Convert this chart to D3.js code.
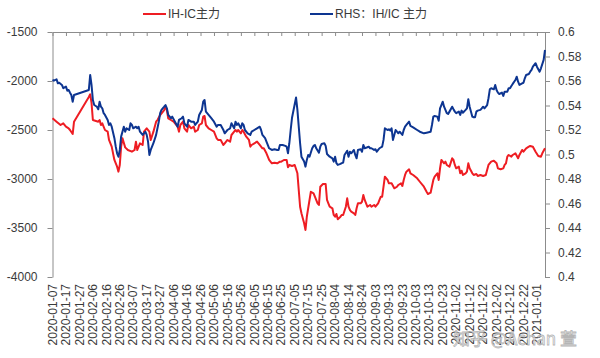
<!DOCTYPE html>
<html><head><meta charset="utf-8">
<script src="https://cdn.jsdelivr.net/npm/d3@7"></script>
<style>
html,body{margin:0;padding:0;background:#fff;}
svg text{font-family:"Liberation Sans",Arial,sans-serif;}
</style>
</head><body>
<script>
const redDates = ["2020-01-07","2020-01-10","2020-01-13","2020-01-15","2020-01-17","2020-01-19","2020-01-20","2020-01-22","2020-01-23","2020-02-03","2020-02-04","2020-02-05","2020-02-06","2020-02-10","2020-02-11","2020-02-12","2020-02-13","2020-02-15","2020-02-17","2020-02-18","2020-02-20","2020-02-21","2020-02-22","2020-02-24","2020-02-25","2020-02-26","2020-02-27","2020-02-28","2020-03-01","2020-03-03","2020-03-06","2020-03-08","2020-03-09","2020-03-10","2020-03-12","2020-03-14","2020-03-15","2020-03-17","2020-03-19","2020-03-20","2020-03-22","2020-03-24","2020-03-25","2020-03-27","2020-03-30","2020-03-31","2020-04-01","2020-04-02","2020-04-04","2020-04-06","2020-04-09","2020-04-10","2020-04-11","2020-04-13","2020-04-14","2020-04-16","2020-04-17","2020-04-19","2020-04-21","2020-04-22","2020-04-24","2020-04-25","2020-04-27","2020-04-28","2020-04-29","2020-04-30","2020-05-02","2020-05-04","2020-05-06","2020-05-08","2020-05-09","2020-05-11","2020-05-13","2020-05-14","2020-05-16","2020-05-18","2020-05-19","2020-05-21","2020-05-22","2020-05-23","2020-05-24","2020-05-26","2020-05-27","2020-05-28","2020-05-30","2020-06-01","2020-06-02","2020-06-03","2020-06-05","2020-06-07","2020-06-09","2020-06-11","2020-06-12","2020-06-14","2020-06-16","2020-06-18","2020-06-20","2020-06-22","2020-06-24","2020-06-25","2020-06-27","2020-06-29","2020-06-30","2020-07-01","2020-07-03","2020-07-05","2020-07-07","2020-07-09","2020-07-10","2020-07-12","2020-07-13","2020-07-14","2020-07-16","2020-07-17","2020-07-19","2020-07-20","2020-07-22","2020-07-23","2020-07-24","2020-07-26","2020-07-28","2020-07-29","2020-07-30","2020-07-31","2020-08-02","2020-08-03","2020-08-04","2020-08-05","2020-08-06","2020-08-08","2020-08-09","2020-08-10","2020-08-12","2020-08-13","2020-08-14","2020-08-15","2020-08-16","2020-08-18","2020-08-19","2020-08-20","2020-08-21","2020-08-23","2020-08-24","2020-08-25","2020-08-26","2020-08-28","2020-08-30","2020-08-31","2020-09-02","2020-09-03","2020-09-05","2020-09-06","2020-09-07","2020-09-08","2020-09-10","2020-09-12","2020-09-13","2020-09-15","2020-09-17","2020-09-19","2020-09-20","2020-09-22","2020-09-23","2020-09-24","2020-09-25","2020-09-26","2020-09-28","2020-09-29","2020-10-01","2020-10-04","2020-10-06","2020-10-09","2020-10-11","2020-10-12","2020-10-14","2020-10-16","2020-10-17","2020-10-19","2020-10-20","2020-10-21","2020-10-22","2020-10-24","2020-10-25","2020-10-26","2020-10-28","2020-10-30","2020-10-31","2020-11-01","2020-11-02","2020-11-04","2020-11-05","2020-11-06","2020-11-07","2020-11-09","2020-11-10","2020-11-11","2020-11-12","2020-11-14","2020-11-15","2020-11-17","2020-11-18","2020-11-20","2020-11-22","2020-11-24","2020-11-26","2020-11-28","2020-11-30","2020-12-02","2020-12-03","2020-12-05","2020-12-07","2020-12-08","2020-12-09","2020-12-10","2020-12-11","2020-12-13","2020-12-14","2020-12-16","2020-12-18","2020-12-19","2020-12-21","2020-12-22","2020-12-24","2020-12-26","2020-12-27","2020-12-29","2020-12-31","2021-01-02","2021-01-04","2021-01-05","2021-01-07"];
const redValues = [-2380,-2415,-2449,-2432,-2466,-2483,-2500,-2541,-2415,-2163,-2136,-2224,-2398,-2415,-2398,-2449,-2432,-2500,-2517,-2602,-2670,-2738,-2806,-2874,-2925,-2857,-2670,-2585,-2677,-2704,-2721,-2704,-2619,-2704,-2636,-2653,-2517,-2483,-2517,-2602,-2517,-2415,-2398,-2347,-2296,-2262,-2296,-2381,-2398,-2415,-2466,-2517,-2449,-2415,-2483,-2517,-2449,-2483,-2466,-2517,-2500,-2449,-2432,-2364,-2357,-2449,-2483,-2500,-2517,-2585,-2602,-2602,-2653,-2636,-2602,-2619,-2551,-2517,-2500,-2517,-2500,-2534,-2500,-2517,-2568,-2602,-2670,-2653,-2636,-2619,-2653,-2687,-2687,-2738,-2806,-2840,-2834,-2840,-2823,-2823,-2806,-2806,-2881,-2857,-2867,-2857,-2942,-3283,-3350,-3452,-3520,-3385,-3214,-3130,-3146,-3181,-3248,-3265,-3079,-3051,-3051,-3214,-3248,-3283,-3299,-3367,-3385,-3357,-3411,-3385,-3367,-3367,-3283,-3197,-3283,-3316,-3334,-3350,-3367,-3299,-3248,-3248,-3232,-3163,-3214,-3283,-3265,-3283,-3265,-3283,-3248,-3214,-3181,-3181,-2976,-3010,-3044,-3044,-3095,-3079,-3061,-3044,-3071,-3010,-2959,-2925,-2901,-2942,-2959,-2993,-3028,-3079,-3130,-3153,-3140,-3010,-2976,-2942,-3010,-2891,-2806,-2840,-2823,-2857,-2874,-2789,-2806,-2857,-2891,-2874,-2942,-2915,-2959,-2942,-2925,-2840,-2891,-2942,-2959,-2949,-2969,-2959,-2969,-2959,-2857,-2823,-2813,-2840,-2891,-2901,-2891,-2857,-2840,-2772,-2755,-2772,-2755,-2738,-2789,-2755,-2704,-2721,-2687,-2670,-2663,-2670,-2721,-2765,-2772,-2738,-2687];

const blueDates = ["2020-01-07","2020-01-08","2020-01-10","2020-01-11","2020-01-12","2020-01-14","2020-01-15","2020-01-17","2020-01-18","2020-01-19","2020-01-20","2020-01-21","2020-01-22","2020-01-23","2020-02-03","2020-02-04","2020-02-05","2020-02-06","2020-02-07","2020-02-09","2020-02-10","2020-02-11","2020-02-12","2020-02-13","2020-02-14","2020-02-15","2020-02-17","2020-02-18","2020-02-19","2020-02-20","2020-02-22","2020-02-23","2020-02-24","2020-02-25","2020-02-26","2020-02-27","2020-02-29","2020-03-01","2020-03-02","2020-03-04","2020-03-05","2020-03-06","2020-03-07","2020-03-09","2020-03-10","2020-03-11","2020-03-12","2020-03-14","2020-03-15","2020-03-16","2020-03-17","2020-03-18","2020-03-19","2020-03-20","2020-03-22","2020-03-24","2020-03-25","2020-03-26","2020-03-27","2020-03-28","2020-03-30","2020-03-31","2020-04-01","2020-04-02","2020-04-04","2020-04-05","2020-04-07","2020-04-09","2020-04-10","2020-04-12","2020-04-13","2020-04-14","2020-04-16","2020-04-17","2020-04-19","2020-04-21","2020-04-22","2020-04-24","2020-04-25","2020-04-27","2020-04-28","2020-04-29","2020-04-30","2020-05-02","2020-05-04","2020-05-06","2020-05-08","2020-05-09","2020-05-11","2020-05-13","2020-05-14","2020-05-16","2020-05-18","2020-05-19","2020-05-21","2020-05-22","2020-05-23","2020-05-24","2020-05-26","2020-05-27","2020-05-28","2020-05-29","2020-05-31","2020-06-02","2020-06-03","2020-06-05","2020-06-07","2020-06-09","2020-06-10","2020-06-11","2020-06-13","2020-06-14","2020-06-16","2020-06-18","2020-06-20","2020-06-22","2020-06-23","2020-06-24","2020-06-26","2020-06-28","2020-06-29","2020-06-30","2020-07-01","2020-07-02","2020-07-03","2020-07-06","2020-07-07","2020-07-08","2020-07-09","2020-07-10","2020-07-12","2020-07-13","2020-07-14","2020-07-15","2020-07-16","2020-07-18","2020-07-19","2020-07-20","2020-07-21","2020-07-23","2020-07-24","2020-07-25","2020-07-27","2020-07-28","2020-07-29","2020-07-31","2020-08-02","2020-08-03","2020-08-04","2020-08-05","2020-08-06","2020-08-08","2020-08-09","2020-08-10","2020-08-11","2020-08-13","2020-08-14","2020-08-15","2020-08-16","2020-08-18","2020-08-19","2020-08-20","2020-08-21","2020-08-23","2020-08-24","2020-08-25","2020-08-26","2020-08-28","2020-08-29","2020-08-30","2020-08-31","2020-09-02","2020-09-03","2020-09-04","2020-09-05","2020-09-06","2020-09-08","2020-09-09","2020-09-10","2020-09-12","2020-09-13","2020-09-14","2020-09-15","2020-09-16","2020-09-18","2020-09-19","2020-09-20","2020-09-21","2020-09-23","2020-09-24","2020-09-25","2020-09-26","2020-09-28","2020-09-29","2020-10-01","2020-10-04","2020-10-06","2020-10-09","2020-10-11","2020-10-14","2020-10-15","2020-10-16","2020-10-17","2020-10-19","2020-10-20","2020-10-21","2020-10-22","2020-10-23","2020-10-24","2020-10-26","2020-10-27","2020-10-28","2020-10-30","2020-10-31","2020-11-01","2020-11-02","2020-11-04","2020-11-05","2020-11-06","2020-11-07","2020-11-09","2020-11-10","2020-11-11","2020-11-12","2020-11-14","2020-11-15","2020-11-16","2020-11-17","2020-11-18","2020-11-20","2020-11-21","2020-11-22","2020-11-23","2020-11-25","2020-11-26","2020-11-27","2020-11-28","2020-11-30","2020-12-01","2020-12-02","2020-12-03","2020-12-04","2020-12-06","2020-12-07","2020-12-08","2020-12-10","2020-12-11","2020-12-12","2020-12-13","2020-12-14","2020-12-16","2020-12-17","2020-12-18","2020-12-19","2020-12-21","2020-12-22","2020-12-23","2020-12-24","2020-12-26","2020-12-27","2020-12-28","2020-12-29","2020-12-31","2021-01-01","2021-01-02","2021-01-03","2021-01-04","2021-01-06","2021-01-07"];
const blueValues = [0.5608,0.5603,0.5614,0.5581,0.5586,0.5568,0.5541,0.5554,0.5521,0.5527,0.5505,0.5486,0.5431,0.5486,0.5527,0.5649,0.5568,0.5445,0.5404,0.539,0.5369,0.5431,0.539,0.5377,0.5337,0.5323,0.5282,0.5241,0.5255,0.5227,0.5133,0.5064,0.501,0.4982,0.5037,0.5146,0.5227,0.5186,0.5214,0.52,0.5255,0.5241,0.5214,0.5227,0.5214,0.5227,0.5186,0.516,0.5173,0.5186,0.516,0.5105,0.4996,0.5037,0.5092,0.516,0.5214,0.5268,0.5337,0.5364,0.539,0.5404,0.5377,0.5323,0.5296,0.5309,0.5268,0.5227,0.5282,0.5296,0.5309,0.5255,0.5227,0.5282,0.5268,0.5268,0.5241,0.5268,0.5323,0.5364,0.5431,0.5445,0.535,0.5323,0.5296,0.5268,0.5227,0.5241,0.5241,0.52,0.5173,0.52,0.5214,0.5255,0.5214,0.5268,0.5241,0.5255,0.5214,0.5255,0.5241,0.52,0.5173,0.516,0.5186,0.52,0.5214,0.5227,0.52,0.516,0.5133,0.5105,0.5051,0.5037,0.5043,0.5037,0.5037,0.5078,0.5078,0.507,0.5064,0.501,0.5092,0.52,0.53,0.5465,0.5364,0.5227,0.5092,0.4982,0.4942,0.4901,0.4956,0.4996,0.4982,0.5051,0.507,0.5078,0.5051,0.5015,0.5064,0.5086,0.5092,0.507,0.5004,0.4982,0.4969,0.4942,0.4982,0.4929,0.4915,0.4923,0.4929,0.4934,0.4996,0.5031,0.4982,0.5023,0.501,0.5037,0.4996,0.4969,0.5037,0.5043,0.5023,0.5078,0.5051,0.5059,0.5064,0.5051,0.5051,0.5037,0.5043,0.5023,0.5037,0.5051,0.5064,0.5119,0.5214,0.52,0.5206,0.5195,0.5214,0.5119,0.52,0.5186,0.5173,0.5186,0.516,0.52,0.5227,0.5241,0.5268,0.5233,0.5222,0.52,0.5186,0.5173,0.5178,0.5186,0.5241,0.5309,0.5314,0.5309,0.5276,0.5377,0.5404,0.5431,0.539,0.5337,0.5331,0.535,0.539,0.5369,0.535,0.5337,0.535,0.5323,0.5358,0.5341,0.5364,0.5377,0.5451,0.539,0.5309,0.5304,0.5304,0.535,0.5358,0.5364,0.5377,0.539,0.5377,0.5404,0.5459,0.5532,0.5541,0.5532,0.5568,0.5527,0.5505,0.5494,0.5505,0.5478,0.5513,0.5513,0.5541,0.5541,0.5559,0.5576,0.5608,0.5635,0.5594,0.5568,0.5581,0.5586,0.5622,0.5649,0.5657,0.5676,0.569,0.5717,0.5745,0.5717,0.5696,0.5676,0.5704,0.5772,0.5853];

const xTickLabels = ["2020-01-07","2020-01-17","2020-01-27","2020-02-06","2020-02-16","2020-02-26","2020-03-07","2020-03-17","2020-03-27","2020-04-06","2020-04-16","2020-04-26","2020-05-06","2020-05-16","2020-05-26","2020-06-05","2020-06-15","2020-06-25","2020-07-05","2020-07-15","2020-07-25","2020-08-04","2020-08-14","2020-08-24","2020-09-03","2020-09-13","2020-09-23","2020-10-03","2020-10-13","2020-10-23","2020-11-02","2020-11-12","2020-11-22","2020-12-02","2020-12-12","2020-12-22","2021-01-01"];
const xDomain = ["2020-01-07","2021-01-07"];
const leftTicks = [-1500,-2000,-2500,-3000,-3500,-4000];
const rightTicks = [0.6,0.58,0.56,0.54,0.52,0.5,0.48,0.46,0.44,0.42,0.4];
const rightTickLabels = ["0.6","0.58","0.56","0.54","0.52","0.5","0.48","0.46","0.44","0.42","0.4"];
const seriesNames = ["IH-IC主力","RHS：IH/IC 主力"];
const seriesColors = ["#ee1d23","#0d3591"];

const parse = d3.timeParse("%Y-%m-%d");
const W = 600, H = 358;
const L = 52.5, R = 545, T = 32, B = 277;
const axisColor = "#8c8c8c", textColor = "#3a3a3a";

const svg = d3.select("body").append("svg").attr("width", W).attr("height", H);

const x = d3.scaleTime().domain(xDomain.map(parse)).range([L, R]);
const yL = d3.scaleLinear().domain([-4000, -1500]).range([B, T]);
const yR = d3.scaleLinear().domain([0.4, 0.6]).range([B, T]);

function styleAxis(g){
  g.selectAll("path,line").attr("stroke", axisColor).attr("stroke-width", 1);
  g.selectAll("text").attr("fill", textColor).style("font-size", "12px")
   .style("font-family", "'Liberation Sans', Arial, sans-serif");
}

// top category axis line with ticks
const tickDates = xTickLabels.map(parse);
svg.append("g").attr("transform", `translate(0,${T})`)
  .call(d3.axisBottom(x).tickValues(tickDates).tickSize(4).tickSizeOuter(0).tickFormat(""))
  .call(styleAxis);

// left axis
svg.append("g").attr("transform", `translate(${L},0)`)
  .call(d3.axisLeft(yL).tickValues(leftTicks).tickSize(5).tickSizeOuter(0).tickPadding(10).tickFormat(d3.format("d")))
  .call(styleAxis)
  .call(g => g.selectAll("text").text(d => String(d)));

// right axis
svg.append("g").attr("transform", `translate(${R},0)`)
  .call(d3.axisRight(yR).tickValues(rightTicks).tickSize(5).tickSizeOuter(0).tickPadding(8)
    .tickFormat((d, i) => rightTickLabels[i]))
  .call(styleAxis);

// bottom rotated date labels
svg.append("g").selectAll("text").data(tickDates).join("text")
  .attr("transform", d => `translate(${x(d)},${B + 7}) rotate(-90)`)
  .attr("text-anchor", "end").attr("dy", "0.35em")
  .attr("fill", textColor).style("font-size", "12px")
  .text((d, i) => xTickLabels[i]);

// lines
const redData = redDates.map((d, i) => [parse(d), redValues[i]]);
const blueData = blueDates.map((d, i) => [parse(d), blueValues[i]]);

svg.append("path").datum(redData)
  .attr("fill", "none").attr("stroke", seriesColors[0]).attr("stroke-width", 2)
  .attr("stroke-linejoin", "round")
  .attr("d", d3.line().x(d => x(d[0])).y(d => yL(d[1])));

svg.append("path").datum(blueData)
  .attr("fill", "none").attr("stroke", seriesColors[1]).attr("stroke-width", 2)
  .attr("stroke-linejoin", "round")
  .attr("d", d3.line().x(d => x(d[0])).y(d => yR(d[1])));

// legend
const legend = [{x: 143, name: seriesNames[0], c: seriesColors[0]}, {x: 310, name: seriesNames[1], c: seriesColors[1]}];
const lg = svg.append("g");
legend.forEach(l => {
  lg.append("line").attr("x1", l.x).attr("x2", l.x + 23).attr("y1", 14).attr("y2", 14)
    .attr("stroke", l.c).attr("stroke-width", 2);
  lg.append("text").attr("x", l.x + 25).attr("y", 14).attr("dy", "0.35em")
    .attr("fill", textColor).style("font-size", "12px")
    .style("font-family", "'Liberation Sans','Noto Sans CJK SC',sans-serif")
    .text(l.name);
});

// watermark
svg.append("text").attr("x", 453).attr("y", 339).attr("dy", "0.35em")
  .style("font-size", "17px").style("font-family", "'Noto Sans CJK SC',sans-serif")
  .attr("fill", "#ffffff").attr("fill-opacity", 0.7)
  .attr("stroke", "#a8a8a8").attr("stroke-width", 0.8).attr("stroke-opacity", 0.85)
  .text("知乎 @Achan 萱");
</script>
</body></html>
